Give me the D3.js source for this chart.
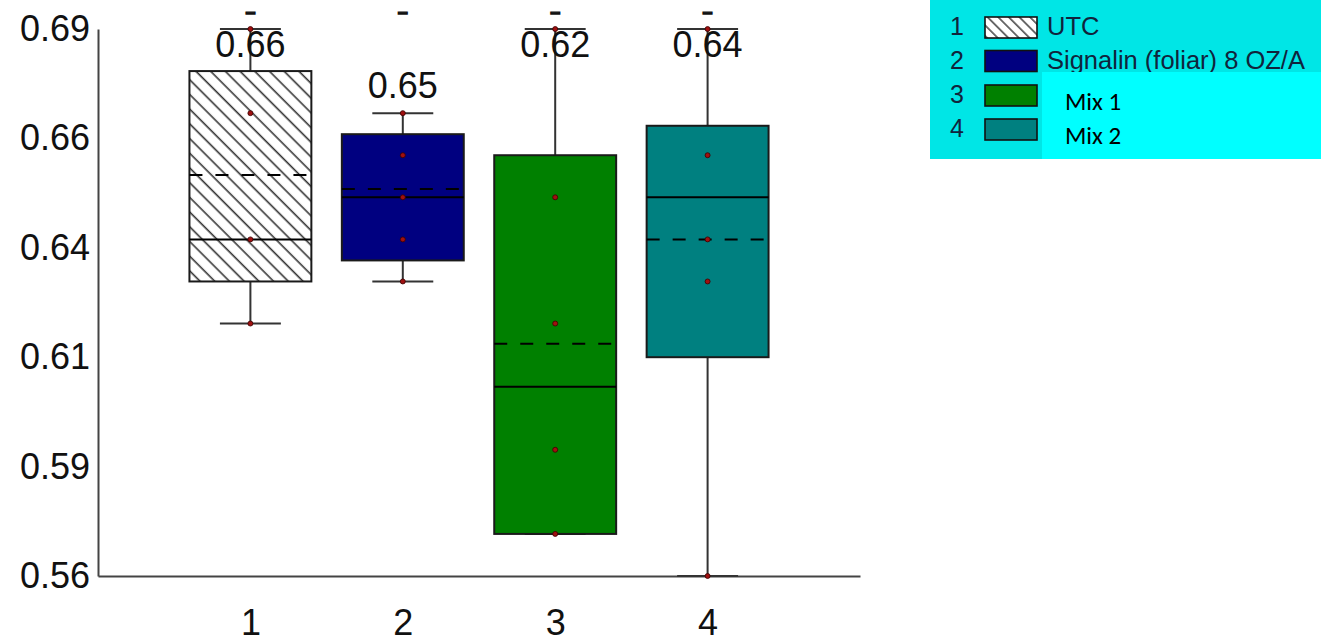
<!DOCTYPE html>
<html>
<head>
<meta charset="utf-8">
<script src="https://cdn.jsdelivr.net/npm/d3@7"></script>
<style>
  html, body { margin: 0; padding: 0; background: #fff; }
  svg { display: block; font-family: "Liberation Sans", Arial, sans-serif; }
</style>
</head>
<body>
<svg id="chart" width="1321" height="642"></svg>
<script>
// Treatment groups on the x axis
const categories = [1, 2, 3, 4];
const treatmentNames = ["UTC", "Signalin (foliar) 8 OZ/A", "Mix 1", "Mix 2"];

// Box statistics per treatment
const whiskerLow  = [0.62, 0.63,  0.57,  0.56];
const q1          = [0.63, 0.635, 0.57,  0.612];
const medians     = [0.64, 0.65,  0.605, 0.65];
const q3          = [0.68, 0.665, 0.66,  0.667];
const whiskerHigh = [0.69, 0.67,  0.69,  0.69];
const means       = [0.6553, 0.652, 0.6152, 0.64];

// Individual observations per treatment
const observations = [
  [0.62, 0.64, 0.67, 0.69],
  [0.63, 0.64, 0.65, 0.66, 0.67],
  [0.57, 0.59, 0.62, 0.65, 0.69],
  [0.56, 0.63, 0.64, 0.66, 0.69]
];

// Grouping letters above each box
const groupMarks = ["–", "–", "–", "–"];

// Y axis ticks
const yTicks = [0.56, 0.586, 0.612, 0.638, 0.664, 0.69];

// Fill per treatment (first one is hatched)
const boxFills = ["url(#hatch)", "#000080", "#008000", "#008080"];
const legendFills = ["url(#hatchSmall)", "#000080", "#008000", "#008080"];

const svg = d3.select("#chart");
const fmt = d3.format(".2f");

const x = d3.scaleLinear().domain([0, 5]).range([98, 860]);
const y = d3.scaleLinear().domain([0.56, 0.69]).range([576, 29]);
const boxW = x(0.8) - x(0);
const capW = x(0.4) - x(0);

// Hatch patterns
const defs = svg.append("defs");
defs.append("pattern")
  .attr("id", "hatch").attr("patternUnits", "userSpaceOnUse")
  .attr("width", 10.4).attr("height", 10.4)
  .attr("patternTransform", "rotate(-45)")
  .call(p => {
    p.append("rect").attr("width", 10.4).attr("height", 10.4).attr("fill", "#fff");
    p.append("line").attr("x1", 5).attr("x2", 5).attr("y1", 0).attr("y2", 10.4)
      .attr("stroke", "#333").attr("stroke-width", 1.6);
  });
defs.append("pattern")
  .attr("id", "hatchSmall").attr("patternUnits", "userSpaceOnUse")
  .attr("width", 7.5).attr("height", 7.5)
  .attr("patternTransform", "rotate(-45)")
  .call(p => {
    p.append("rect").attr("width", 7.5).attr("height", 7.5).attr("fill", "#fff");
    p.append("line").attr("x1", 3.7).attr("x2", 3.7).attr("y1", 0).attr("y2", 7.5)
      .attr("stroke", "#333").attr("stroke-width", 1.4);
  });

// Axes
const yAxis = d3.axisLeft(y).tickValues(yTicks).tickFormat(fmt).tickSize(0).tickPadding(8);
const gy = svg.append("g").attr("transform", `translate(${x(0)},0)`).call(yAxis);
gy.select(".domain").attr("stroke", "#444").attr("stroke-width", 2);
gy.selectAll("text").attr("font-size", 36).attr("fill", "#111")
  .attr("font-family", "'Liberation Sans', Arial, sans-serif");

const xAxis = d3.axisBottom(x).tickValues(categories).tickFormat(d3.format("d")).tickSize(0).tickPadding(33);
const gx = svg.append("g").attr("transform", `translate(0,${y(0.56)})`).call(xAxis);
gx.select(".domain").attr("stroke", "#444").attr("stroke-width", 2);
gx.selectAll("text").attr("font-size", 36).attr("fill", "#111")
  .attr("font-family", "'Liberation Sans', Arial, sans-serif");

const groups = svg.append("g").selectAll("g")
  .data(categories.map((c, i) => ({ c, i })))
  .join("g");

// Whiskers and caps
groups.append("line")
  .attr("x1", d => x(d.c)).attr("x2", d => x(d.c))
  .attr("y1", d => y(whiskerHigh[d.i])).attr("y2", d => y(whiskerLow[d.i]))
  .attr("stroke", "#333").attr("stroke-width", 2);
groups.append("line")
  .attr("x1", d => x(d.c) - capW / 2).attr("x2", d => x(d.c) + capW / 2)
  .attr("y1", d => y(whiskerHigh[d.i])).attr("y2", d => y(whiskerHigh[d.i]))
  .attr("stroke", "#333").attr("stroke-width", 2);
groups.append("line")
  .attr("x1", d => x(d.c) - capW / 2).attr("x2", d => x(d.c) + capW / 2)
  .attr("y1", d => y(whiskerLow[d.i])).attr("y2", d => y(whiskerLow[d.i]))
  .attr("stroke", "#333").attr("stroke-width", 2);

// Boxes
groups.append("rect")
  .attr("x", d => x(d.c) - boxW / 2).attr("width", boxW)
  .attr("y", d => y(q3[d.i])).attr("height", d => y(q1[d.i]) - y(q3[d.i]))
  .attr("fill", d => boxFills[d.i])
  .attr("stroke", "#1a1a1a").attr("stroke-width", 2);

// Median (solid) and mean (dashed)
groups.append("line")
  .attr("x1", d => x(d.c) - boxW / 2).attr("x2", d => x(d.c) + boxW / 2)
  .attr("y1", d => y(medians[d.i])).attr("y2", d => y(medians[d.i]))
  .attr("stroke", "#000").attr("stroke-width", 2);
groups.append("line")
  .attr("x1", d => x(d.c) - boxW / 2).attr("x2", d => x(d.c) + boxW / 2)
  .attr("y1", d => y(means[d.i])).attr("y2", d => y(means[d.i]))
  .attr("stroke", "#000").attr("stroke-width", 2)
  .attr("stroke-dasharray", "13,13");

// Observations
groups.selectAll("circle")
  .data(d => observations[d.i].map(v => ({ c: d.c, v })))
  .join("circle")
  .attr("cx", d => x(d.c)).attr("cy", d => y(d.v)).attr("r", 2.5)
  .attr("fill", "#a01010").attr("stroke", "#3a0000").attr("stroke-width", 0.8);

// Mean labels
groups.append("text")
  .attr("x", d => x(d.c))
  .attr("y", d => Math.max(y(whiskerHigh[d.i]) - 15, y(0.69) + 28))
  .attr("text-anchor", "middle").attr("font-size", 36).attr("fill", "#111")
  .text(d => fmt(means[d.i]));

// Grouping marks
groups.append("text")
  .attr("x", d => x(d.c)).attr("y", 17.5)
  .attr("text-anchor", "middle").attr("font-size", 18).attr("font-weight", "bold")
  .attr("fill", "#111").attr("stroke", "#111").attr("stroke-width", 1.3)
  .text(d => groupMarks[d.i]);

// Legend
const legend = svg.append("g");
legend.append("rect").attr("x", 930).attr("y", 0).attr("width", 391).attr("height", 159)
  .attr("fill", "#00e6e6");
const rowY = [35, 68.5, 103, 137];
categories.forEach((c, i) => {
  legend.append("text").attr("x", 957).attr("y", rowY[i]).attr("text-anchor", "middle")
    .attr("font-size", 25).attr("fill", "#10243c").text(c);
  legend.append("rect").attr("x", 985).attr("y", rowY[i] - 18).attr("width", 52).attr("height", 21)
    .attr("fill", legendFills[i]).attr("stroke", "#111").attr("stroke-width", 1.6);
});
[0, 1].forEach(i => {
  legend.append("text").attr("x", 1047).attr("y", rowY[i])
    .attr("font-size", 25.5).attr("fill", "#10243c").text(treatmentNames[i]);
});
legend.append("rect").attr("x", 1042).attr("y", 72).attr("width", 279).attr("height", 87)
  .attr("fill", "#00ffff");
[2, 3].forEach((i, k) => {
  legend.append("text").attr("x", 1065).attr("y", [110, 144][k])
    .attr("font-family", "Carlito, Lato, 'Open Sans', sans-serif")
    .attr("font-size", 25).attr("fill", "#000").text(treatmentNames[i]);
});
</script>
</body>
</html>
